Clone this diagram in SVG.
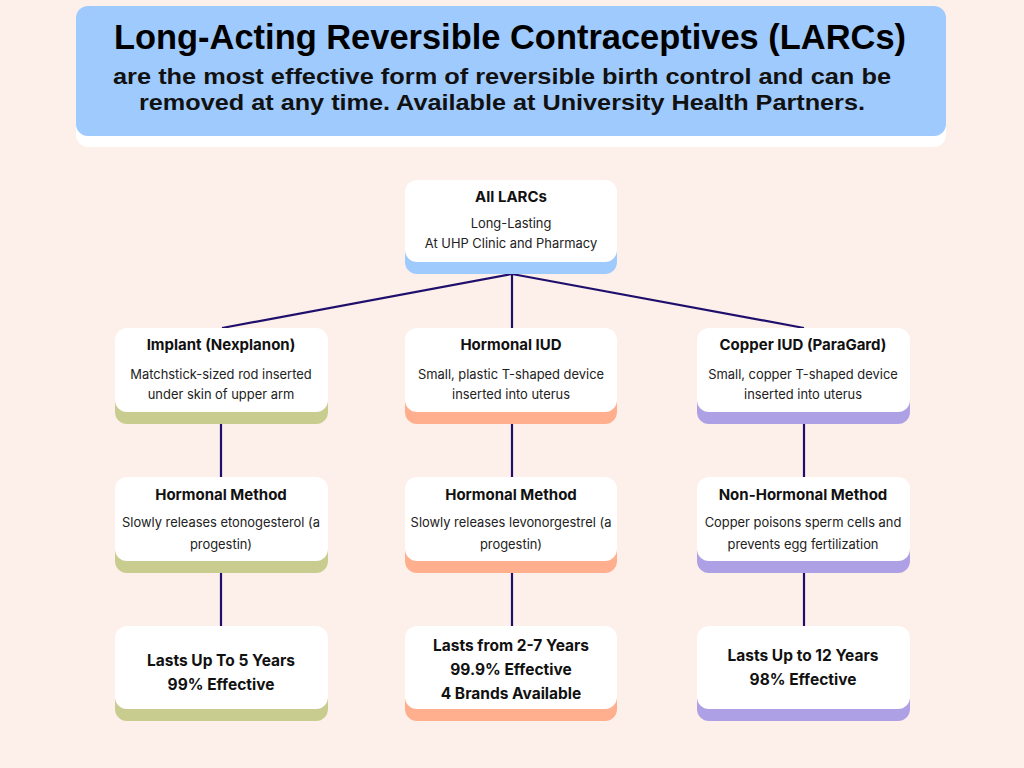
<svg xmlns="http://www.w3.org/2000/svg" width="1024" height="768" viewBox="0 0 1024 768">
<style>
.bg{fill:#FDEFEA}
.w{fill:#FFFFFF}
.t{font-family:Inter,"Liberation Sans",sans-serif;font-weight:700;font-size:15px;fill:#111;text-anchor:middle}
.d{font-family:Inter,"Liberation Sans",sans-serif;font-weight:400;font-size:12.9px;fill:#222;text-anchor:middle}
.b{font-family:Inter,"Liberation Sans",sans-serif;font-weight:700;font-size:15.5px;fill:#111;text-anchor:middle}
.h1{font-family:"Liberation Sans",sans-serif;font-weight:700;font-size:35px;fill:#000;text-anchor:middle}
.h2{font-family:"Liberation Sans",sans-serif;font-weight:700;font-size:21.5px;fill:#111;text-anchor:middle}
.blue{fill:#9FCAFD}.green{fill:#C8CC8E}.salmon{fill:#FFAE8E}.purple{fill:#AEA0E4}
.c{stroke:#1F0F6C;stroke-width:2.2;fill:none}
</style>
<rect class="bg" width="1024" height="768"/>
<g id="header">
<rect class="w" x="76" y="14" width="870" height="133" rx="12"/>
<rect class="blue" x="76" y="6" width="870" height="130" rx="12"/>
<text class="h1" x="510" y="49" textLength="792" lengthAdjust="spacingAndGlyphs">Long-Acting Reversible Contraceptives (LARCs)</text>
<text class="h2" x="502" y="84" textLength="778" lengthAdjust="spacingAndGlyphs">are the most effective form of reversible birth control and can be</text>
<text class="h2" x="502" y="110" textLength="726" lengthAdjust="spacingAndGlyphs">removed at any time. Available at University Health Partners.</text>
</g>
<g id="connectors">
<path class="c" d="M512 274 L222 328 M512 274 L512 328 M512 274 L804 328"/>
<path class="c" d="M221 424 V477 M221 573 V626 M512 424 V477 M512 573 V626 M804 424 V477 M804 573 V626"/>
</g>
<g id="all-larcs">
<rect class="blue" x="405" y="192" width="212" height="82" rx="12"/>
<rect class="w" x="405" y="180" width="212" height="82" rx="12"/>
<text class="t" x="511" y="202">All LARCs</text>
<text class="d" x="511" y="228">Long-Lasting</text>
<text class="d" x="511" y="248">At UHP Clinic and Pharmacy</text>
</g>
<g id="implant">
<rect class="green" x="115" y="340" width="213" height="84" rx="12"/>
<rect class="w" x="115" y="328" width="213" height="84" rx="12"/>
<text class="t" x="221" y="350">Implant (Nexplanon)</text>
<text class="d" x="221" y="379">Matchstick-sized rod inserted</text>
<text class="d" x="221" y="399">under skin of upper arm</text>
</g>
<g id="hormonal-iud">
<rect class="salmon" x="405" y="340" width="212" height="84" rx="12"/>
<rect class="w" x="405" y="328" width="212" height="84" rx="12"/>
<text class="t" x="511" y="350">Hormonal IUD</text>
<text class="d" x="511" y="379">Small, plastic T-shaped device</text>
<text class="d" x="511" y="399">inserted into uterus</text>
</g>
<g id="copper-iud">
<rect class="purple" x="697" y="340" width="213" height="84" rx="12"/>
<rect class="w" x="697" y="328" width="213" height="84" rx="12"/>
<text class="t" x="803" y="350">Copper IUD (ParaGard)</text>
<text class="d" x="803" y="379">Small, copper T-shaped device</text>
<text class="d" x="803" y="399">inserted into uterus</text>
</g>
<g id="implant-method">
<rect class="green" x="115" y="489" width="213" height="84" rx="12"/>
<rect class="w" x="115" y="477" width="213" height="84" rx="12"/>
<text class="t" x="221" y="500">Hormonal Method</text>
<text class="d" x="221" y="527">Slowly releases etonogesterol (a</text>
<text class="d" x="221" y="549">progestin)</text>
</g>
<g id="iud-method">
<rect class="salmon" x="405" y="489" width="212" height="84" rx="12"/>
<rect class="w" x="405" y="477" width="212" height="84" rx="12"/>
<text class="t" x="511" y="500">Hormonal Method</text>
<text class="d" x="511" y="527">Slowly releases levonorgestrel (a</text>
<text class="d" x="511" y="549">progestin)</text>
</g>
<g id="copper-method">
<rect class="purple" x="697" y="489" width="213" height="84" rx="12"/>
<rect class="w" x="697" y="477" width="213" height="84" rx="12"/>
<text class="t" x="803" y="500">Non-Hormonal Method</text>
<text class="d" x="803" y="527">Copper poisons sperm cells and</text>
<text class="d" x="803" y="549">prevents egg fertilization</text>
</g>
<g id="implant-duration">
<rect class="green" x="115" y="638" width="213" height="83" rx="12"/>
<rect class="w" x="115" y="626" width="213" height="83" rx="12"/>
<text class="b" x="221" y="666">Lasts Up To 5 Years</text>
<text class="b" x="221" y="690">99% Effective</text>
</g>
<g id="iud-duration">
<rect class="salmon" x="405" y="638" width="212" height="83" rx="12"/>
<rect class="w" x="405" y="626" width="212" height="83" rx="12"/>
<text class="b" x="511" y="651">Lasts from 2-7 Years</text>
<text class="b" x="511" y="675">99.9% Effective</text>
<text class="b" x="511" y="699">4 Brands Available</text>
</g>
<g id="copper-duration">
<rect class="purple" x="697" y="638" width="213" height="83" rx="12"/>
<rect class="w" x="697" y="626" width="213" height="83" rx="12"/>
<text class="b" x="803" y="661">Lasts Up to 12 Years</text>
<text class="b" x="803" y="685">98% Effective</text>
</g>
</svg>
